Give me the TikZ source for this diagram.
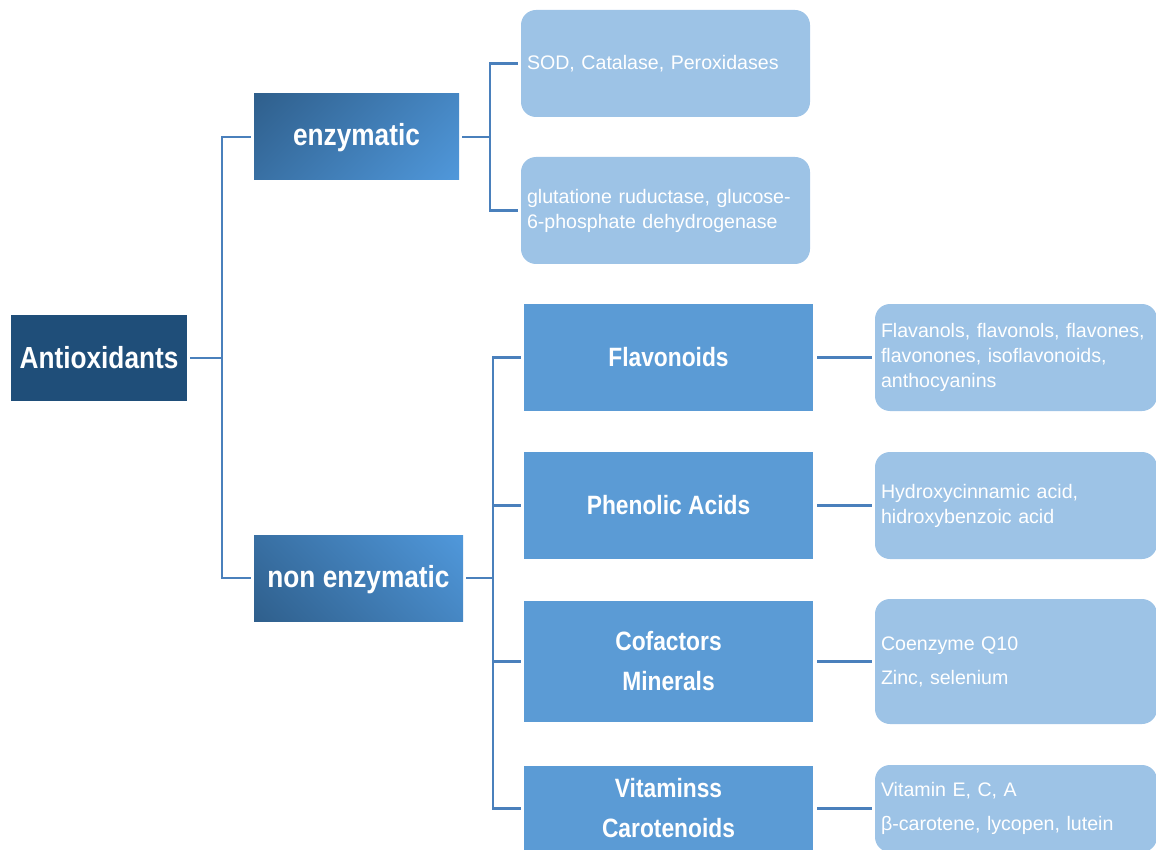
\documentclass[tikz,border=0pt]{standalone}
\usepackage{fontspec}
\setmainfont{Liberation Sans}
\newfontfamily\tfont[FakeStretch=0.86]{Liberation Sans}
\definecolor{antcol}{HTML}{1F4E79}
\definecolor{gdark}{HTML}{2F5F8C}
\definecolor{glight}{HTML}{5098DB}
\definecolor{midcol}{HTML}{5B9BD5}
\definecolor{lightcol}{HTML}{9DC3E6}
\definecolor{linecol}{HTML}{4A80BC}
\pgfdeclareverticalshading{enzshade}{100bp}{color(0bp)=(glight); color(14.6bp)=(glight); color(85.4bp)=(gdark); color(100bp)=(gdark)}
\pgfdeclareverticalshading{nonshade}{100bp}{color(0bp)=(gdark); color(14.6bp)=(gdark); color(85.4bp)=(glight); color(100bp)=(glight)}
\tikzset{
  box/.style={draw=none, inner sep=0pt, text=white},
  titlefont/.style={font=\tfont\bfseries\fontsize{30.5}{40}\selectfont},
  midfont/.style={font=\tfont\bfseries\fontsize{26.5}{40}\selectfont},
  bodyfont/.style={font=\fontsize{19.6}{25}\selectfont},
  rootbox/.style={box, titlefont, fill=antcol, minimum width=176pt, minimum height=86pt},
  gradbox/.style={box, titlefont, minimum height=86pt, text height=22pt, text depth=4pt},
  midbox/.style={box, midfont, fill=midcol, minimum width=289pt, align=center},
  leafbox/.style={box, bodyfont, fill=lightcol, rounded corners=15pt, inner xsep=6pt, align=left},
  conn/.style={draw=linecol, line width=2.8pt},
}
\begin{document}
\begin{tikzpicture}[x=1pt,y=-1pt]
\useasboundingbox (0,0) rectangle (1156,850);
% root
\node[rootbox] (ant) at (99,358) {Antioxidants};
% level 1
\node[gradbox, minimum width=205pt, shade, shading=enzshade, shading angle=45] (enz) at (356.5,137) {enzymatic};
\node[gradbox, minimum width=209pt, shade, shading=nonshade, shading angle=-45] (non) at (358.5,578) {non enzymatic};
% enzymatic leaves
\node[leafbox, minimum width=289pt, text width=277pt, minimum height=107pt] (sod) at (665.5,63.5) {SOD, Catalase, Peroxidases};
\node[leafbox, minimum width=289pt, text width=277pt, minimum height=107pt] (glu) at (665.5,210.5) {glutatione ruductase, glucose-\\6-phosphate dehydrogenase};
% non enzymatic groups
\node[midbox, minimum height=107pt] (fla) at (668.5,357.5) {Flavonoids};
\node[midbox, minimum height=107pt] (phe) at (668.5,505.5) {Phenolic Acids};
\node[midbox, minimum height=121pt] (cof) at (668.5,661.5) {Cofactors\\ Minerals};
\node[midbox, minimum height=85pt] (vit) at (668.5,808.5) {Vitaminss\\ Carotenoids};
% right leaves
\node[leafbox, minimum width=282pt, text width=270pt, minimum height=107pt] (r1) at (1016,357.5) {Flavanols, flavonols, flavones,\\ flavonones, isoflavonoids,\\ anthocyanins};
\node[leafbox, minimum width=282pt, text width=270pt, minimum height=107pt] (r2) at (1016,505.5) {Hydroxycinnamic acid,\\ hidroxybenzoic acid};
\node[leafbox, minimum width=282pt, text width=270pt, minimum height=125pt] (r3) at (1016,661.5) {Coenzyme Q10\\[9pt] Zinc, selenium};
\node[leafbox, minimum width=282pt, text width=270pt, minimum height=87pt] (r4) at (1016,808.5) {Vitamin E, C, A\\[9pt] β-carotene, lycopen, lutein};
% junctions
\coordinate (j1) at (222,358);
\coordinate (j2) at (490,137);
\coordinate (j3) at (493,578);
% connectors
\draw[conn, shorten <=3pt] (ant.east) -- (j1);
\draw[conn, shorten >=3pt] (j1) |- (enz.west);
\draw[conn, shorten >=3pt] (j1) |- (non.west);
\draw[conn, shorten <=3pt] (enz.east) -- (j2);
\draw[conn, shorten >=3pt] (j2) |- (sod.west);
\draw[conn, shorten >=3pt] (j2) |- (glu.west);
\draw[conn, shorten <=3pt] (non.east) -- (j3);
\draw[conn, shorten >=3pt] (j3) |- (fla.west);
\draw[conn, shorten >=3pt] (j3) |- (phe.west);
\draw[conn, shorten >=3pt] (j3) |- (cof.west);
\draw[conn, shorten >=3pt] (j3) |- (vit.west);
\draw[conn, shorten <=4pt, shorten >=3pt] (fla.east) -- (r1.west);
\draw[conn, shorten <=4pt, shorten >=3pt] (phe.east) -- (r2.west);
\draw[conn, shorten <=4pt, shorten >=3pt] (cof.east) -- (r3.west);
\draw[conn, shorten <=4pt, shorten >=3pt] (vit.east) -- (r4.west);
\end{tikzpicture}
\end{document}
